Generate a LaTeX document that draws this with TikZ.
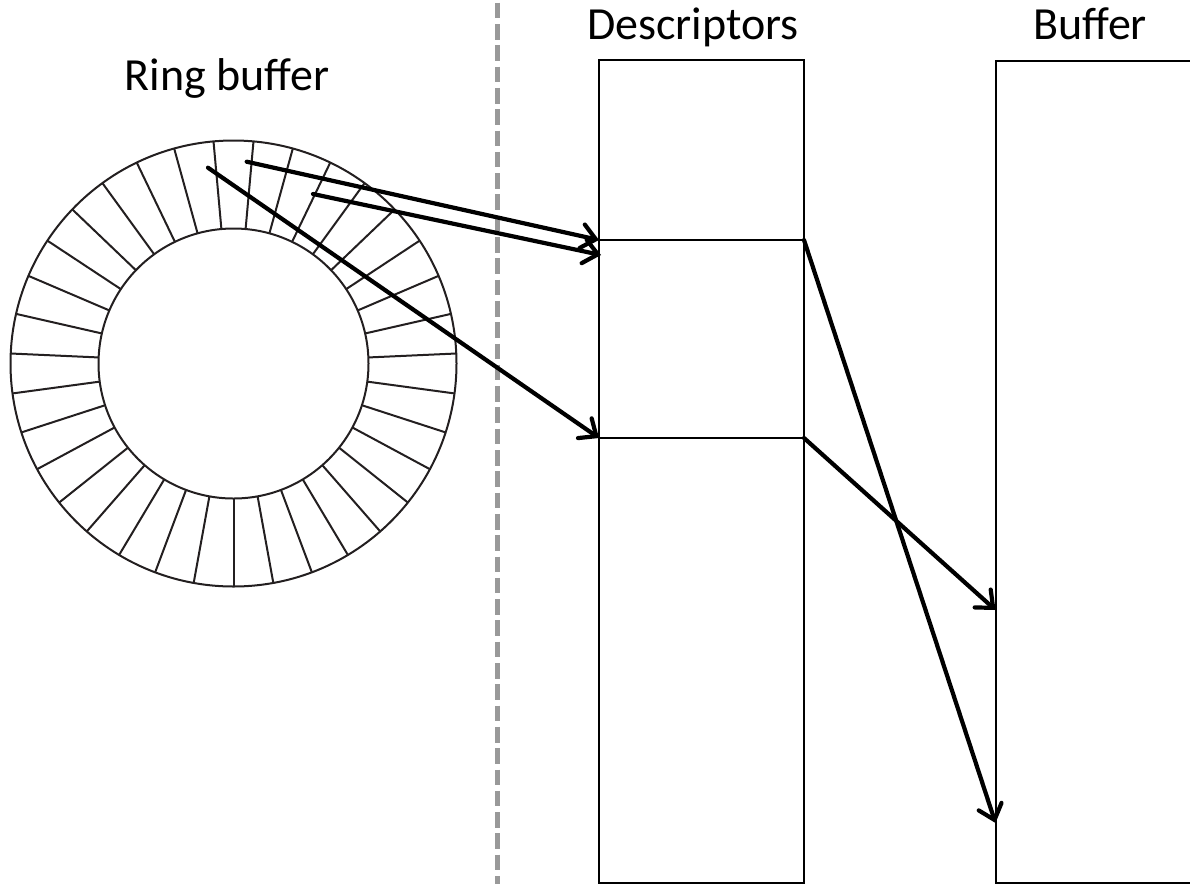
\documentclass[tikz,border=0pt]{standalone}
\usepackage{fontspec}
\setmainfont{Carlito}
\usetikzlibrary{arrows.meta,calc}
\definecolor{ringcol}{HTML}{231F20}
\definecolor{dashcol}{HTML}{999999}
\begin{document}
\begin{tikzpicture}[x=1pt,y=-1pt,
  ringline/.style={draw=ringcol,line width=2pt},
  slot/.style={draw=black,line width=2pt,rectangle,inner sep=0pt,outer sep=0pt,minimum width=205pt,anchor=north west},
  lab/.style={font=\fontsize{46}{55}\selectfont,anchor=base,inner sep=0pt},
  ptr/.style={draw=black,line width=4.2pt,line cap=round,-{Straight Barb[length=14pt,width=24pt,line cap=round]}},
  divider/.style={draw=dashcol,line width=5pt,dash pattern=on 15.6pt off 5.7pt}]
\useasboundingbox (0,0) rectangle (1190,884);
\clip (0,0) rectangle (1190,884);
% divider
\coordinate (dtop) at (497,2.7);
\coordinate (dbot) at (497,884);
\draw[divider] (dtop) -- (dbot);
% ring buffer
\coordinate (rc) at (233.5,363.5);
\draw[ringline] (rc) circle[radius=223];
\draw[ringline] (rc) circle[radius=135];
\foreach \k in {0,...,34}{
  \draw[ringline] ($(rc)+({90-\k*360/35}:135)$) -- ($(rc)+({90-\k*360/35}:223)$);
}
% labels
\node[lab] (tring) at (227,90.7) {Ring buffer};
\node[lab] (tdesc) at (693,39) {Descriptors};
\node[lab] (tbuf) at (1090,39) {Buffer};
% descriptors
\node[slot,minimum height=180.5pt] (d1) at (599,59.5) {};
\node[slot,minimum height=198pt] (d2) at (599,240) {};
\node[slot,minimum height=445pt] (d3) at (599,438) {};
% buffer
\node[slot,minimum width=250pt,minimum height=822.5pt] (buf) at (995.5,60.5) {};
% pointer coordinates
\coordinate (s1) at (246.7,161.7);
\coordinate (s2) at (313,194);
\coordinate (s3) at (208,167.7);
\coordinate (e2) at (601,255);
\coordinate (b1) at (995.5,610);
\coordinate (b2) at (995.5,823);
% arrows
\draw[ptr] (s1) -- (d2.north west);
\draw[ptr] (s2) -- (e2);
\draw[ptr] (s3) -- (d3.north west);
\draw[ptr] (d2.north east) -- (b2);
\draw[ptr] (d3.north east) -- (b1);
\end{tikzpicture}
\end{document}
